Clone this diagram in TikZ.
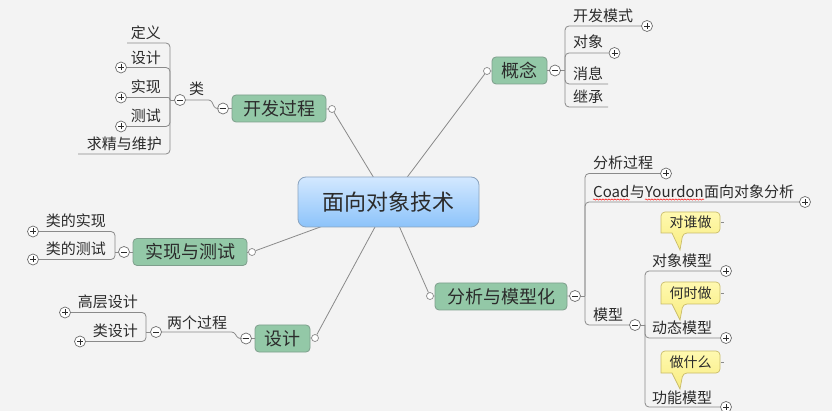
\documentclass[tikz,border=0pt]{standalone}
\usepackage{fontspec}
\setmainfont{Noto Sans CJK SC}
\usetikzlibrary{decorations.pathmorphing}
\definecolor{bg}{HTML}{F3F3F3}
\definecolor{ln}{HTML}{8A8A8A}
\definecolor{tx}{HTML}{2B2B2B}
\definecolor{grn}{HTML}{93C8A7}
\definecolor{grnb}{HTML}{7E9E8C}
\definecolor{bluet}{HTML}{D3E8FF}
\definecolor{blueb}{HTML}{8CC3FA}
\definecolor{bluebd}{HTML}{8AA3BE}
\definecolor{yelt}{HTML}{FFF9B0}
\definecolor{yelbot}{HTML}{F8EC80}
\definecolor{yelb}{HTML}{C9BC6A}
\tikzset{
 conn/.style={draw=ln, line width=0.8pt},
 central/.style={draw=bluebd, line width=0.8pt, rounded corners=8pt, top color=bluet, bottom color=blueb,
   font=\fontsize{22}{24}\selectfont, text=tx, minimum width=181pt, minimum height=50pt, inner sep=0pt},
 topic/.style={draw=grnb, fill=grn, line width=0.8pt, rounded corners=4pt,
   font=\fontsize{18}{20}\selectfont, text=tx, minimum height=27pt, inner sep=0pt},
 sub/.style={font=\fontsize{15}{17}\selectfont, text=tx, inner sep=0pt},
 note/.style={font=\fontsize{14}{16}\selectfont, text=tx, inner sep=0pt},
 tog/.style={circle, draw=ln!80!black, fill=white, line width=0.7pt, minimum size=11pt, inner sep=0pt},
 plusc/.style={tog, path picture={\draw[tx, line width=0.9pt]
   ([xshift=-3pt]path picture bounding box.center) -- ([xshift=3pt]path picture bounding box.center)
   ([yshift=-3pt]path picture bounding box.center) -- ([yshift=3pt]path picture bounding box.center);}},
 minusc/.style={tog, path picture={\draw[tx, line width=0.9pt]
   ([xshift=-3pt]path picture bounding box.center) -- ([xshift=3pt]path picture bounding box.center);}},
 dotc/.style={circle, draw=ln, fill=white, line width=0.7pt, minimum size=7pt, inner sep=0pt},
 callout/.style={draw=yelb, top color=yelt, bottom color=yelbot, line width=0.7pt},
 wavy/.style={draw=red, line width=0.5pt, decorate, decoration={snake, amplitude=0.6pt, segment length=3pt}},
}
\begin{document}
\begin{tikzpicture}[x=1pt,y=-1pt]
\useasboundingbox (0,0) rectangle (832,411);
\fill[bg] (0,0) rectangle (832,411);

% attachment dots
\node[dotc] (d1) at (332,109) {};
\node[dotc] (d2) at (487,71) {};
\node[dotc] (d3) at (252,252) {};
\node[dotc] (d4) at (315,338) {};
\node[dotc] (d5) at (430,296) {};

% root connections
\coordinate (rc) at (388.5,202);
\foreach \d in {d1,d2,d3,d4,d5} \draw[conn] (rc) -- (\d);
\node[central] (root) at (rc) {面向对象技术};

% main topics
\node[topic, minimum width=94pt] (t1) at (279,108.5) {开发过程};
\node[topic, minimum width=55pt] (t2) at (519.5,70.5) {概念};
\node[topic, minimum width=114pt] (t3) at (190,252) {实现与测试};
\node[topic, minimum width=55pt] (t4) at (282.5,338.5) {设计};
\node[topic, minimum width=132pt] (t5) at (501,296.5) {分析与模型化};
\draw[conn] (t1) -- (d1);
\draw[conn] (t2) -- (d2);
\draw[conn] (t3) -- (d3);
\draw[conn] (t4) -- (d4);
\draw[conn] (t5) -- (d5);

% collapse toggles
\node[minusc] (m1) at (223,108.5) {};
\node[minusc] (m2) at (555,70.5) {};
\node[minusc] (m3) at (124,252) {};
\node[minusc] (m4) at (246,338.5) {};
\node[minusc] (m5) at (575,296) {};
\draw[conn] (t1) -- (m1);
\draw[conn] (t2) -- (m2);
\draw[conn] (t3) -- (m3);
\draw[conn] (t4) -- (m4);
\draw[conn] (t5) -- (m5);

% ---- 开发过程 subtree
\node[minusc] (m6) at (180,100) {};
\node[sub, anchor=base west] (lei) at (189,95) {类};
\draw[conn, rounded corners=2.5pt] (m1.west) -- (215,108.5) -- (211,100) -- (m6.east);
\coordinate (b1) at (170,100);
\draw[conn] (m6.west) -- (b1);
\node[sub, anchor=base east] (c11) at (161,39) {定义};
\node[sub, anchor=base east] (c12) at (161,63.5) {设计};
\node[sub, anchor=base east] (c13) at (161,93) {实现};
\node[sub, anchor=base east] (c14) at (161,122) {测试};
\node[sub, anchor=base east] (c15) at (162,150) {求精与维护};
\node[plusc] (p12) at (121,67.5) {};
\node[plusc] (p13) at (121,97.5) {};
\node[plusc] (p14) at (121,126.5) {};
\coordinate (e11) at (127,43);
\coordinate (e15) at (78,154);
\draw[conn, rounded corners=4pt] (e11) -- (b1 |- e11) -- (b1);
\draw[conn, rounded corners=4pt] (p12.east) -- (b1 |- p12.east) -- (b1);
\draw[conn, rounded corners=2pt] (p13.east) -- (b1 |- p13.east) -- (b1);
\draw[conn, rounded corners=4pt] (p14.east) -- (b1 |- p14.east) -- (b1);
\draw[conn, rounded corners=4pt] (e15) -- (b1 |- e15) -- (b1);

% ---- 概念 subtree
\coordinate (b2) at (565,70.5);
\draw[conn] (m2.east) -- (b2);
\node[sub, anchor=base west] (c21) at (573,21.5) {开发模式};
\node[plusc] (p21) at (647,26) {};
\node[sub, anchor=base west] (c22) at (573,48) {对象};
\node[plusc] (p22) at (614.5,53) {};
\node[sub, anchor=base west] (c23) at (573,80) {消息};
\coordinate (e23) at (608,84);
\node[sub, anchor=base west] (c24) at (573,103) {继承};
\coordinate (e24) at (608,107);
\draw[conn, rounded corners=4pt] (p21.west) -- (b2 |- p21.west) -- (b2);
\draw[conn, rounded corners=4pt] (p22.west) -- (b2 |- p22.west) -- (b2);
\draw[conn, rounded corners=4pt] (e23) -- (b2 |- e23) -- (b2);
\draw[conn, rounded corners=4pt] (e24) -- (b2 |- e24) -- (b2);

% ---- 实现与测试 subtree
\coordinate (b3) at (115,252);
\draw[conn] (m3.west) -- (b3);
\node[sub, anchor=base east] (c31) at (106,227) {类的实现};
\node[plusc] (p31) at (33,231.5) {};
\node[sub, anchor=base east] (c32) at (106,255) {类的测试};
\node[plusc] (p32) at (33,259.5) {};
\draw[conn, rounded corners=4pt] (p31.east) -- (b3 |- p31.east) -- (b3);
\draw[conn, rounded corners=4pt] (p32.east) -- (b3 |- p32.east) -- (b3);

% ---- 设计 subtree
\node[minusc] (m7) at (156,332) {};
\node[sub, anchor=base west] (c40) at (167,328) {两个过程};
\draw[conn, rounded corners=2.5pt] (m4.west) -- (238,338.5) -- (234,332) -- (m7.east);
\coordinate (b4) at (146,332);
\draw[conn] (m7.west) -- (b4);
\node[sub, anchor=base east] (c41) at (138,308) {高层设计};
\node[plusc] (p41) at (65,312.5) {};
\node[sub, anchor=base east] (c42) at (138,337) {类设计};
\node[plusc] (p42) at (80,341.5) {};
\draw[conn, rounded corners=4pt] (p41.east) -- (b4 |- p41.east) -- (b4);
\draw[conn, rounded corners=4pt] (p42.east) -- (b4 |- p42.east) -- (b4);

% ---- 分析与模型化 subtree
\coordinate (b5) at (585,296);
\draw[conn] (m5.east) -- (b5);
\node[sub, anchor=base west] (c51) at (593,169) {分析过程};
\node[plusc] (p51) at (666,173.5) {};
\node[sub, anchor=base west] (c52a) at (593,198) {Coad};
\node[sub, anchor=base west] (c52b) at (c52a.base east) {与};
\node[sub, anchor=base west] (c52c) at (c52b.base east) {Yourdon};
\node[sub, anchor=base west] (c52d) at (c52c.base east) {面向对象分析};
\draw[wavy] ([yshift=-1.5pt]c52a.base west) -- ([yshift=-1.5pt]c52a.base east);
\draw[wavy] ([yshift=-1.5pt]c52c.base west) -- ([yshift=-1.5pt]c52c.base east);
\node[plusc] (p52) at (805,202) {};
\node[sub, anchor=base west] (c53) at (593,321) {模型};
\node[minusc] (m8) at (635,325) {};
\draw[conn, rounded corners=4pt] (p51.west) -- (b5 |- p51.west) -- (b5);
\draw[conn, rounded corners=4pt] (p52.west) -- (b5 |- p52.west) -- (b5);
\draw[conn, rounded corners=4pt] (m8.west) -- (b5 |- m8.west) -- (b5);

% ---- 模型 subtree
\coordinate (b6) at (645,325);
\draw[conn] (m8.east) -- (b6);
\node[sub, anchor=base west] (c61) at (652,267) {对象模型};
\node[plusc] (p61) at (726,271) {};
\node[sub, anchor=base west] (c62) at (652,334) {动态模型};
\node[plusc] (p62) at (726,338) {};
\node[sub, anchor=base west] (c63) at (652,403) {功能模型};
\node[plusc] (p63) at (726,407) {};
\draw[conn, rounded corners=4pt] (p61.west) -- (b6 |- p61.west) -- (b6);
\draw[conn, rounded corners=4pt] (p62.west) -- (b6 |- p62.west) -- (b6);
\draw[conn, rounded corners=4pt] (p63.west) -- (b6 |- p63.west) -- (b6);

% ---- callouts
\path[callout] (680,250) -- (672,233) -- (661,233) [rounded corners=4pt] -- (661,212) -- (720,212) -- (720,233) -- (683,233) [sharp corners] -- cycle;
\node[note] (n1) at (690.5,222.5) {对谁做};
\path[callout] (680,320) -- (672,304) -- (661,304) [rounded corners=4pt] -- (661,282) -- (720,282) -- (720,304) -- (683,304) [sharp corners] -- cycle;
\node[note] (n2) at (690.5,293) {何时做};
\path[callout] (680,389) -- (672,373) -- (661,373) [rounded corners=4pt] -- (661,351) -- (720,351) -- (720,373) -- (683,373) [sharp corners] -- cycle;
\node[note] (n3) at (690.5,362) {做什么};
\coordinate (s1) at (720.5,222.5); \coordinate (s1e) at (724,222.5);
\coordinate (s2) at (720.5,293); \coordinate (s2e) at (724,293);
\coordinate (s3) at (720.5,362); \coordinate (s3e) at (724,362);
\draw[conn, line width=0.6pt] (s1) -- (s1e);
\draw[conn, line width=0.6pt] (s2) -- (s2e);
\draw[conn, line width=0.6pt] (s3) -- (s3e);
\end{tikzpicture}
\end{document}
